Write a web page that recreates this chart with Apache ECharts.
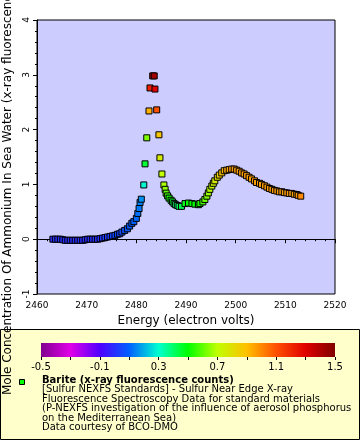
<!DOCTYPE html>
<html><head><meta charset="utf-8">
<script src="https://cdn.jsdelivr.net/npm/echarts@6/dist/echarts.min.js"></script>
<style>html,body{margin:0;padding:0;background:#fff}#c{width:360px;height:440px}</style>
</head><body><div id="c"></div>
<script>
// ---- data ----
const energy = [
  2463.2,2463.7,2464.2,2464.7,2465.2,2465.7,2466.2,2466.7,2467.2,2467.7,2468.2,2468.7,2469.2,2469.7,
  2470.2,2470.7,2471.2,2471.7,2472.2,2472.7,2473.2,2473.7,2474.2,2474.7,2475.2,2475.7,2476.2,
  2476.65,2477.1,2477.65,2478.2,2478.65,2479.1,2479.5,2480.0,2480.3,2480.55,2480.75,2481.0,
  2481.5,2481.75,2482.1,2482.55,2482.75,2483.3,2483.6,2483.75,2484.1,2484.55,2484.75,2485.15,
  2485.55,2485.8,2486.0,2486.3,2486.6,2487.0,2487.3,2487.6,2487.9,2488.25,2488.6,
  2489.1,2489.8,2490.5,2491.2,2491.8,2492.5,2492.8,2493.4,2493.8,2494.2,2494.5,2494.8,2495.2,
  2495.5,2495.8,2496.3,2496.7,2497.2,2497.7,2498.2,2498.7,2499.2,2499.7,2500.2,2500.7,2501.2,
  2501.7,2502.2,2502.7,2503.2,2503.8,2504.2,2504.8,2505.2,2505.8,2506.3,2506.8,2507.3,2507.8,
  2508.3,2508.8,2509.3,2509.8,2510.3,2510.8,2511.3,2511.8,2512.3,2512.6,2513.1
];
const moleConc = [
  0.00,0.00,0.00,0.00,-0.01,-0.02,-0.02,-0.02,-0.02,-0.02,-0.02,-0.02,-0.02,-0.01,
  0.00,0.00,0.00,0.00,0.00,0.01,0.02,0.03,0.04,0.05,0.06,0.07,0.09,
  0.10,0.13,0.16,0.19,0.24,0.29,0.32,0.38,0.47,0.56,0.67,0.73,
  0.99,1.375,1.85,2.34,2.76,2.98,2.98,2.74,2.36,1.905,1.485,1.19,
  0.99,0.91,0.84,0.79,0.75,0.71,0.68,0.65,0.63,0.615,0.60,
  0.60,0.65,0.66,0.65,0.64,0.63,0.65,0.68,0.725,0.785,0.845,0.91,0.97,
  1.02,1.065,1.13,1.17,1.21,1.25,1.26,1.27,1.28,1.28,1.26,1.24,1.21,
  1.19,1.16,1.13,1.10,1.065,1.035,1.02,1.00,0.975,0.95,0.925,0.91,0.89,
  0.88,0.865,0.865,0.85,0.845,0.835,0.835,0.82,0.815,0.80,0.785
];
const colorValue = [
  0.0,0.0,0.0,0.0,0.0,0.0,0.0,0.0,0.0,0.0,0.0,0.0,0.0,0.0,
  0.0,0.0,0.0,0.0,0.0,0.01,0.02,0.02,0.03,0.03,0.04,0.05,0.05,
  0.05,0.06,0.07,0.08,0.09,0.10,0.10,0.11,0.12,0.13,0.14,0.16,
  0.29,0.45,0.63,0.93,1.22,1.42,1.43,1.30,1.10,0.88,0.77,0.70,
  0.68,0.65,0.60,0.56,0.52,0.48,0.45,0.42,0.40,0.39,0.40,
  0.42,0.47,0.50,0.50,0.50,0.50,0.53,0.57,0.61,0.64,0.66,0.69,0.71,
  0.74,0.77,0.81,0.85,0.89,0.92,0.94,0.95,0.96,0.96,0.96,0.96,0.96,
  0.96,0.96,0.96,0.96,0.96,0.96,0.96,0.96,0.96,0.96,0.96,0.96,0.96,
  0.96,0.96,0.96,0.96,0.96,0.96,0.96,0.96,0.96,0.97,1.00
];
const colorbarTicks = ['-0.5','-0.3','-0.1','0.1','0.3','0.5','0.7','0.9','1.1','1.3','1.5'];
const seriesName = 'Barite (x-ray fluorescence counts)';
const legendLines = [
  '[Sulfur NEXFS Standards] - Sulfur Near Edge X-ray',
  'Fluorescence Spectroscopy Data for standard materials',
  '(P-NEXFS investigation of the influence of aerosol phosphorus',
  'on the Mediterranean Sea)',
  'Data courtesy of BCO-DMO'
];

// ---- styling ----
const palette = ['#800090','#e000e8','#5000ff','#0060ff','#00ffd0','#00ff00','#c0ff00','#ffc000','#ff5000','#e00000','#800000'];
const FONT = 'DejaVu Sans';
const chart = echarts.init(document.getElementById('c'), null, {renderer:'canvas'});
const points = energy.map((e, i) => [e, moleConc[i], colorValue[i]]);
const gradient = new echarts.graphic.LinearGradient(0, 0, 1, 0,
  palette.map((c, i) => ({offset: i / (palette.length - 1), color: c})));

const legendTexts = [{
  type:'text', left:42, top:375, z:10,
  style:{text:seriesName, font:'bold 10px "DejaVu Sans"', fill:'#000'}
}].concat(legendLines.map((t, i) => ({
  type:'text', left:42, top:384.5 + i * 9.5, z:10,
  style:{text:t, font:'10px "DejaVu Sans"', fill:'#000'}
})));

chart.setOption({
  backgroundColor:'#ffffff',
  animation:false,
  textStyle:{fontFamily:FONT, color:'#000'},
  grid:[
    {left:37, right:25, top:20, bottom:146, show:true, backgroundColor:'#ccccff', borderColor:'#000', borderWidth:1,
     containLabel:false, outerBoundsMode:'none'},
    {left:41, width:294, top:343, height:14, show:true, backgroundColor:gradient, borderWidth:0,
     containLabel:false, outerBoundsMode:'none'}
  ],
  xAxis:[
    {gridIndex:0, type:'value', min:2460, max:2520, interval:10,
     name:'Energy (electron volts)', nameLocation:'middle', nameGap:21,
     nameTextStyle:{fontSize:12, color:'#000', fontFamily:FONT},
     axisLine:{lineStyle:{color:'#000'}},
     axisTick:{length:4, lineStyle:{color:'#000'}},
     minorTick:{show:true, splitNumber:5, length:2, lineStyle:{color:'#000'}},
     axisLabel:{fontSize:9, color:'#000', margin:7, fontFamily:FONT, formatter:v => String(v)},
     splitLine:{show:false}},
    {gridIndex:1, type:'category', data:colorbarTicks, boundaryGap:false,
     axisLine:{show:false},
     axisTick:{show:true, interval:0, length:3, lineStyle:{color:'#000'}},
     axisLabel:{interval:1, fontSize:10, color:'#000', margin:5, fontFamily:FONT},
     splitLine:{show:false}}
  ],
  yAxis:[
    {gridIndex:0, type:'value', min:-1, max:4, interval:1,
     name:'Mole Concentration Of Ammonium In Sea Water (x-ray fluorescence counts)',
     nameLocation:'middle', nameGap:20,
     nameTextStyle:{fontSize:12, color:'#000', fontFamily:FONT, padding:[0, 20, 0, 0]},
     axisLine:{lineStyle:{color:'#000'}},
     axisTick:{length:4, lineStyle:{color:'#000'}},
     minorTick:{show:true, splitNumber:5, length:2, lineStyle:{color:'#000'}},
     axisLabel:{rotate:90, fontSize:9, color:'#000', margin:6, fontFamily:FONT},
     splitLine:{show:false}},
    {gridIndex:1, type:'value', min:0, max:1, show:false}
  ],
  visualMap:{type:'continuous', show:false, min:-0.5, max:1.5, dimension:2, seriesIndex:0,
    inRange:{color:palette}},
  series:[{
    name:seriesName, type:'scatter', xAxisIndex:0, yAxisIndex:0, data:points,
    symbol:'rect', symbolSize:6,
    itemStyle:{borderColor:'#000', borderWidth:1, opacity:1}
  }],
  graphic:[
    {type:'rect', z:-10, shape:{x:0.5, y:329.5, width:359, height:110},
     style:{fill:'#ffffcc', stroke:'#000', lineWidth:1}},
    {type:'rect', z:10, shape:{x:19.5, y:379.5, width:5, height:5},
     style:{fill:'#00ff00', stroke:'#000', lineWidth:1}}
  ].concat(legendTexts)
});
</script></body></html>
